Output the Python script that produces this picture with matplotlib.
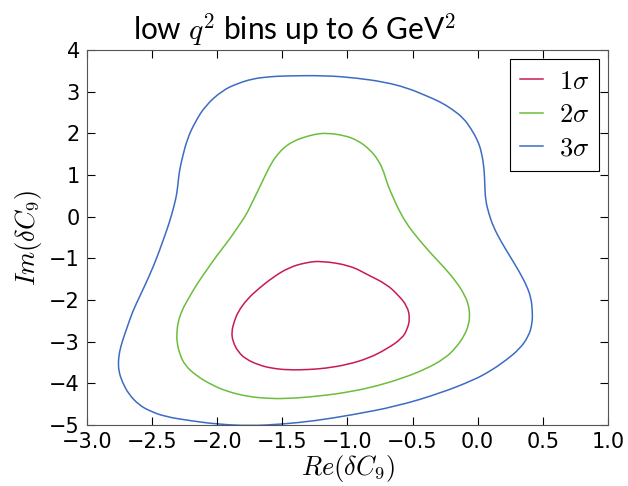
import matplotlib
matplotlib.use("Agg")
import matplotlib.pyplot as plt
from matplotlib.path import Path
from matplotlib.patches import PathPatch

# contour outlines (Re, Im)
sig1_re = [-1.20, -0.98, -0.84, -0.70, -0.61, -0.54, -0.52, -0.54, -0.58, -0.70, -0.84, -1.00, -1.17, -1.30,
           -1.45, -1.58, -1.68, -1.78, -1.84, -1.88, -1.89, -1.87, -1.84, -1.77, -1.68, -1.57, -1.45, -1.32]
sig1_im = [-1.06, -1.17, -1.40, -1.62, -1.88, -2.15, -2.44, -2.70, -2.92, -3.18, -3.40, -3.55, -3.64, -3.67,
           -3.68, -3.64, -3.56, -3.42, -3.24, -3.00, -2.76, -2.52, -2.28, -1.98, -1.72, -1.45, -1.22, -1.10]

sig2_re = [-1.16, -1.02, -0.92, -0.83, -0.76, -0.72, -0.69, -0.65, -0.61, -0.55, -0.47, -0.36, -0.25, -0.16,
           -0.10, -0.07, -0.06, -0.07, -0.10, -0.16, -0.25, -0.40, -0.58, -0.77, -0.97, -1.22, -1.48, -1.62,
           -1.76, -1.92, -2.04, -2.16, -2.25, -2.29, -2.31, -2.31, -2.30, -2.27, -2.22, -2.16, -2.09, -2.00,
           -1.90, -1.84, -1.78, -1.73, -1.68, -1.63, -1.58, -1.53, -1.48, -1.41, -1.33, -1.25]
sig2_im = [2.01, 1.95, 1.83, 1.62, 1.35, 1.07, 0.75, 0.47, 0.19, -0.15, -0.48, -0.88, -1.24, -1.58,
           -1.88, -2.12, -2.36, -2.60, -2.84, -3.12, -3.40, -3.66, -3.88, -4.06, -4.20, -4.31, -4.37, -4.36,
           -4.32, -4.20, -4.04, -3.82, -3.56, -3.28, -3.00, -2.76, -2.52, -2.24, -1.96, -1.64, -1.32, -0.92,
           -0.52, -0.24, 0.03, 0.35, 0.67, 1.00, 1.31, 1.52, 1.68, 1.82, 1.91, 1.98]

sig3_re = [-1.48, -1.17, -0.93, -0.71, -0.54, -0.40, -0.29, -0.20, -0.11, -0.05, 0.00, 0.03, 0.05, 0.055,
           0.06, 0.085, 0.12, 0.18, 0.25, 0.32, 0.38, 0.41, 0.42, 0.42, 0.39, 0.32, 0.22, 0.10, -0.03, -0.29,
           -0.62, -0.97, -1.25, -1.50, -1.75, -2.00, -2.20, -2.40, -2.52, -2.60, -2.68, -2.73, -2.755, -2.76,
           -2.75, -2.73, -2.69, -2.65, -2.59, -2.53, -2.47, -2.42, -2.37, -2.33, -2.31, -2.30, -2.29, -2.27,
           -2.23, -2.17, -2.09, -1.96, -1.85, -1.73, -1.60]
sig3_im = [3.38, 3.39, 3.33, 3.23, 3.09, 2.91, 2.76, 2.59, 2.37, 2.11, 1.83, 1.55, 1.15, 0.75,
           0.40, 0.08, -0.24, -0.60, -0.96, -1.32, -1.68, -1.96, -2.24, -2.56, -2.88, -3.18, -3.44, -3.70, -3.92, -4.24,
           -4.55, -4.76, -4.90, -4.98, -5.02, -4.98, -4.90, -4.80, -4.66, -4.52, -4.26, -3.96, -3.72, -3.48,
           -3.24, -3.00, -2.64, -2.28, -1.88, -1.48, -1.04, -0.61, -0.17, 0.27, 0.55, 0.83, 1.10, 1.39,
           1.87, 2.27, 2.67, 3.03, 3.19, 3.31, 3.36]

labels = [r'$1\sigma$', r'$2\sigma$', r'$3\sigma$']
colors = ['#c8195a', '#6cbd3c', '#3b6cc4']


def smooth_loop(xs, ys):
    # closed quadratic bezier path through the read points
    pts = list(zip(xs, ys))
    n = len(pts)
    mids = [((pts[i][0] + pts[(i + 1) % n][0]) / 2, (pts[i][1] + pts[(i + 1) % n][1]) / 2) for i in range(n)]
    verts = [mids[-1]]
    codes = [Path.MOVETO]
    for i in range(n):
        verts += [pts[i], mids[i]]
        codes += [Path.CURVE3, Path.CURVE3]
    return Path(verts, codes)


plt.rcParams['mathtext.fontset'] = 'cm'

fig = plt.figure(figsize=(6.28, 4.86), dpi=100)
ax = fig.add_axes([0.1385, 0.1255, 0.8295, 0.7715])

for re, im, lab, c in zip([sig1_re, sig2_re, sig3_re], [sig1_im, sig2_im, sig3_im], labels, colors):
    ax.add_patch(PathPatch(smooth_loop(re, im), fill=False, edgecolor=c, lw=1.1))
    ax.plot([], [], color=c, lw=1.1, label=lab)

ax.set_xlim(-3, 1)
ax.set_ylim(-5, 4)
ax.set_xticks([-3.0, -2.5, -2.0, -1.5, -1.0, -0.5, 0.0, 0.5, 1.0])
ax.set_yticks(range(-5, 5))
ax.tick_params(direction='in', top=True, right=True, length=6, width=0.8, labelsize=15, pad=5)
for s in ax.spines.values():
    s.set_color('#555555')

ax.set_xlabel(r'$Re(\delta C_9)$', fontsize=19, labelpad=1)
ax.set_ylabel(r'$Im(\delta C_9)$', fontsize=19, labelpad=4)

leg = ax.legend(loc='upper right', fontsize=19, handlelength=0.9, handletextpad=0.6, borderpad=0.35,
                labelspacing=0.28, fancybox=False, framealpha=1, edgecolor='black',
                borderaxespad=0.35)
leg.get_frame().set_linewidth(0.8)

fig.text(0.212, 0.94, r'low $q^2$ bins up to 6 GeV$^2$', fontsize=21.5, family='Lato',
         ha='left', va='center')

fig.savefig('out.png', dpi=100)
